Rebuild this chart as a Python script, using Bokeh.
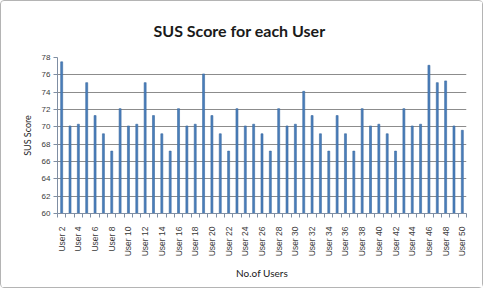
import math
from bokeh.plotting import figure
from bokeh.models import Range1d, FixedTicker
from bokeh.embed import file_html
from bokeh.resources import INLINE

users = ["User 2", "User 3", "User 4", "User 5", "User 6", "User 7", "User 8", "User 9",
         "User 10", "User 11", "User 12", "User 13", "User 14", "User 15", "User 16",
         "User 17", "User 18", "User 19", "User 20", "User 21", "User 22", "User 23",
         "User 24", "User 25", "User 26", "User 27", "User 28", "User 29", "User 30",
         "User 31", "User 32", "User 33", "User 34", "User 35", "User 36", "User 37",
         "User 38", "User 39", "User 40", "User 41", "User 42", "User 43", "User 44",
         "User 45", "User 46", "User 47", "User 48", "User 49", "User 50"]
sus_scores = [77.5, 70.1, 70.3, 75.1, 71.3, 69.2, 67.2, 72.1, 70.1, 70.3,
              75.1, 71.3, 69.2, 67.2, 72.1, 70.1, 70.3, 76.1, 71.3, 69.2,
              67.2, 72.1, 70.1, 70.3, 69.2, 67.2, 72.1, 70.1, 70.3, 74.1,
              71.3, 69.2, 67.2, 71.3, 69.2, 67.2, 72.1, 70.1, 70.3, 69.2,
              67.2, 72.1, 70.1, 70.3, 77.1, 75.1, 75.3, 70.1, 69.6]
y_ticks = [60, 62, 64, 66, 68, 70, 72, 74, 76, 78]

n = len(users)
xs = list(range(n))

p = figure(width=483, height=288, output_backend="svg", toolbar_location=None,
           x_range=Range1d(-0.5, n - 0.5), y_range=Range1d(60, 78),
           min_border_left=56, min_border_right=18, min_border_top=48, min_border_bottom=76,
           styles={"border": "1px solid #b4b4b4", "border-radius": "4px"})

p.vbar(x=xs, top=sus_scores, bottom=60, width=0.24,
       fill_color="#4a7ebb", line_color="#3b6aa0", line_width=0.6)

p.title.text = "SUS Score for each User"
p.title.align = "left"
p.title.offset = 96
p.title.standoff = 35
p.title.text_line_height = 0.7
p.title.text_font = "Lato"
p.title.text_font_size = "16px"
p.title.text_font_style = "bold"
p.title.text_color = "#1a1a1a"

# x axis
p.xaxis.ticker = FixedTicker(ticks=[i for i in xs if i % 2 == 0],
                             minor_ticks=[i - 0.5 for i in range(n + 1)])
p.xaxis.major_label_overrides = {i: users[i] for i in xs if i % 2 == 0}
p.xaxis.major_label_orientation = math.pi / 2
p.xaxis.major_tick_in = 0
p.xaxis.major_tick_out = 0
p.xaxis.minor_tick_in = 0
p.xaxis.minor_tick_out = 4
p.xaxis.minor_tick_line_color = "#7f8ea3"
p.xaxis.axis_line_color = "#7f8ea3"
p.xaxis.major_label_standoff = 9
p.xaxis.major_label_text_font = "Liberation Sans"
p.xaxis.major_label_text_font_size = "8.5px"
p.xaxis.major_label_text_color = "#3a3a3a"
p.xaxis.axis_label = "No.of Users"
p.xaxis.axis_label_text_font = "Lato"
p.xaxis.axis_label_text_font_size = "10px"
p.xaxis.axis_label_text_font_style = "normal"
p.xaxis.axis_label_text_color = "#1a1a1a"
p.xaxis.axis_label_standoff = 8

# y axis
p.yaxis.ticker = FixedTicker(ticks=y_ticks)
p.yaxis.major_tick_in = 0
p.yaxis.major_tick_out = 4
p.yaxis.minor_tick_line_color = None
p.yaxis.major_tick_line_color = "#7f8ea3"
p.yaxis.axis_line_color = "#7f8ea3"
p.yaxis.major_label_text_font = "Liberation Sans"
p.yaxis.major_label_text_font_size = "8px"
p.yaxis.major_label_text_color = "#3a3a3a"
p.yaxis.major_label_standoff = 3
p.yaxis.axis_label = "SUS Score"
p.yaxis.axis_label_text_font = "Lato"
p.yaxis.axis_label_text_font_size = "9px"
p.yaxis.axis_label_text_font_style = "normal"
p.yaxis.axis_label_text_color = "#1a1a1a"
p.yaxis.axis_label_standoff = 6

p.xgrid.grid_line_color = None
p.ygrid.ticker = FixedTicker(ticks=y_ticks)
p.ygrid.grid_line_color = "#8c8c8c"
p.ygrid.grid_line_width = 1
p.outline_line_color = None
p.background_fill_color = "white"
p.border_fill_color = "white"

open("out.html", "w").write(file_html(p, INLINE))
